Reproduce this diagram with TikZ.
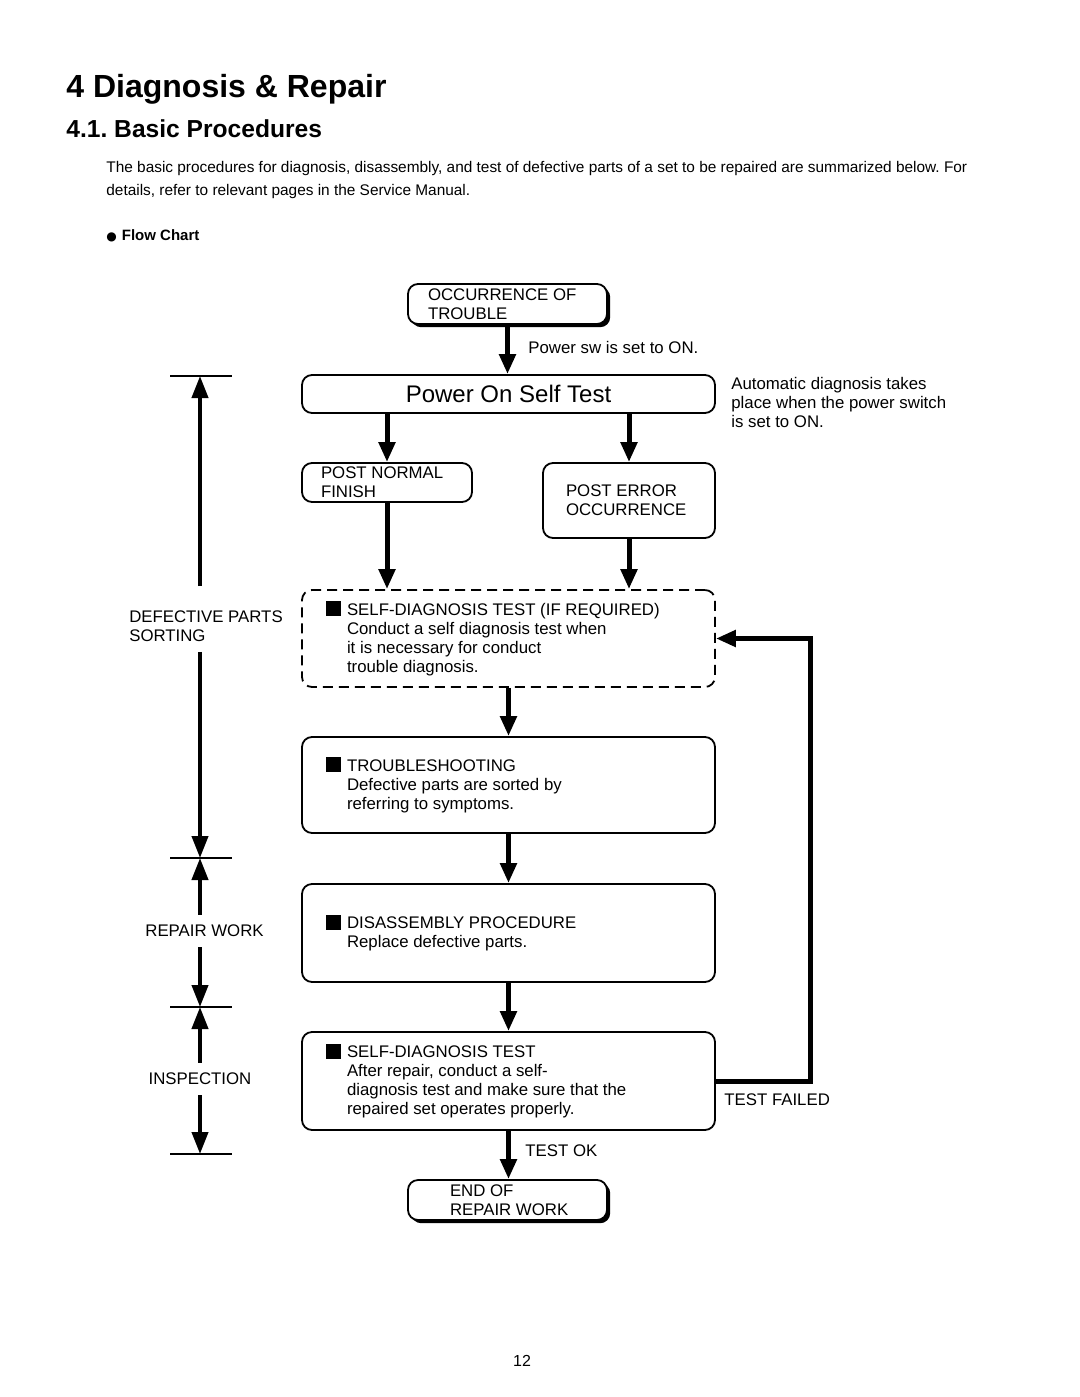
\documentclass[tikz,border=0pt]{standalone}
\usepackage{fontspec}
\setmainfont{Liberation Sans}
\newfontfamily\symfont{DejaVu Sans}
\usetikzlibrary{arrows.meta,shadows,positioning}
\frenchspacing

\newcommand{\sqmark}{\leavevmode\llap{\rule[-0.4pt]{7.5pt}{7.5pt}\hspace{3pt}}}
\newcommand{\boxtxt}[3]{\hspace*{#1}\parbox{#2}{\raggedright #3}}

\tikzset{
  flow/.style={line width=2.5pt, -{Triangle[length=10pt,width=8pt]}},
  dimarrow/.style={line width=2pt, -{Triangle[length=11pt,width=8pt]}},
  tickline/.style={line width=0.9pt},
  box/.style={draw, line width=0.9pt, rounded corners=5pt, fill=white, inner sep=0pt, font=\fontsize{8.4}{9.5}\selectfont},
  shadowbox/.style={box, drop shadow={shadow xshift=1.6pt, shadow yshift=-1.6pt, fill=black, opacity=1}},
  dashbox/.style={box, dash pattern=on 5pt off 3pt},
  txt/.style={inner sep=0pt, align=left, font=\fontsize{8.4}{9.5}\selectfont},
}

\begin{document}
\begin{tikzpicture}[x=0.5pt, y=-0.5pt]
\fill[white] (0,0) rectangle (1080,1397);
\useasboundingbox (0,0) rectangle (1080,1397);

% page heading
\node[anchor=base west, inner sep=0pt, font=\fontsize{16}{19}\selectfont\bfseries] (title) at (66,97) {4 Diagnosis \& Repair};
\node[anchor=base west, inner sep=0pt, font=\fontsize{12.3}{15}\selectfont\bfseries] (sect) at (66,137) {4.1. Basic Procedures};
\node[anchor=north west, inner sep=0pt, align=left, font=\fontsize{7.7}{11.5}\selectfont] (intro) at (106,161) {The basic procedures for diagnosis, disassembly, and test of defective parts of a set to be repaired are summarized below. For\\details, refer to relevant pages in the Service Manual.};
\node[anchor=base west, inner sep=0pt, font=\fontsize{7.5}{9}\selectfont\bfseries] (fchart) at (106,240) {{\symfont\fontsize{6}{8}\selectfont ●}\hspace{2.5pt}Flow Chart};

% flow chart boxes
\node[shadowbox, minimum width=99.5pt, minimum height=20pt] (occ) at (507.5,304) {\boxtxt{10pt}{89.5pt}{OCCURRENCE OF\\TROUBLE}};
\node[box, minimum width=206.5pt, minimum height=19pt, font=\fontsize{12}{14}\selectfont] (pwr) at (508.5,394) {Power On Self Test};
\node[box, minimum width=85pt, minimum height=19.5pt] (pnorm) at (387,482.5) {\boxtxt{9.5pt}{75.5pt}{POST NORMAL\\FINISH}};
\node[box, minimum width=86pt, minimum height=37.5pt] (perr) at (629,500.5) {\boxtxt{11.5pt}{74.5pt}{POST ERROR\\OCCURRENCE}};
\node[dashbox, minimum width=206.5pt, minimum height=48.5pt] (diag) at (508.5,638.5) {\boxtxt{22.5pt}{184pt}{\sqmark SELF-DIAGNOSIS TEST (IF REQUIRED)\\Conduct a self diagnosis test when\\it is necessary for conduct\\trouble diagnosis.}};
\node[box, minimum width=206.5pt, minimum height=48pt] (trbl) at (508.5,785) {\boxtxt{22.5pt}{184pt}{\sqmark TROUBLESHOOTING\\Defective parts are sorted by\\referring to symptoms.}};
\node[box, minimum width=206.5pt, minimum height=49pt] (disasm) at (508.5,933) {\boxtxt{22.5pt}{184pt}{\sqmark DISASSEMBLY PROCEDURE\\Replace defective parts.}};
\node[box, minimum width=206.5pt, minimum height=49pt] (stest) at (508.5,1081) {\boxtxt{22.5pt}{184pt}{\sqmark SELF-DIAGNOSIS TEST\\After repair, conduct a self-\\diagnosis test and make sure that the\\repaired set operates properly.}};
\node[shadowbox, minimum width=99.5pt, minimum height=20pt] (endb) at (507.5,1200) {\boxtxt{21pt}{78.5pt}{END OF\\REPAIR WORK}};

% side notes
\node[txt, anchor=west] (pwrsw) at (528,347) {Power sw is set to ON.};
\node[txt, anchor=north west] (autonote) at (731,377) {Automatic diagnosis takes\\place when the power switch\\is set to ON.};
\node[txt, anchor=west] (failed) at (724,1100) {TEST FAILED};
\node[txt, anchor=west] (testok) at (525,1151) {TEST OK};

% connectors
\draw[flow] (occ.south) -- (occ.south |- pwr.north);
\draw[flow] (pwr.south -| pnorm) -- (pnorm);
\draw[flow] (pwr.south -| perr) -- (perr);
\draw[flow] (pnorm) -- (pnorm |- diag.north);
\draw[flow] (perr) -- (perr |- diag.north);
\foreach \from/\to in {diag/trbl, trbl/disasm, disasm/stest}
    \draw[flow] (\from) -- (\to);
\draw[flow] (stest.south) -- (stest.south |- endb.north);
\draw[flow] (stest.east) -- ++(95,0) |- (diag.east);

% stages on the left
\coordinate (t1) at (200,376);
\coordinate (t2) at (200,858);
\coordinate (t3) at (200,1007);
\coordinate (t4) at (200,1154);
\foreach \t in {t1,t2,t3,t4}
    \draw[tickline] ([xshift=-15pt]\t) -- ([xshift=16pt]\t);

\node[txt, inner ysep=5pt] (defsort) at (206,626) {DEFECTIVE PARTS\\SORTING};
\node[txt, inner ysep=5pt] (repwork) at (204.5,931) {REPAIR WORK};
\node[txt, inner ysep=5pt] (insp) at (200,1079) {INSPECTION};

\draw[dimarrow] (defsort.north -| t1) ++(0,-14) -- (t1);
\draw[dimarrow] (defsort.south -| t2) -- (t2);
\draw[dimarrow] (repwork.north -| t2) -- (t2);
\draw[dimarrow] (repwork.south -| t3) -- (t3);
\draw[dimarrow] (insp.north -| t3) -- (t3);
\draw[dimarrow] (insp.south -| t4) -- (t4);

\node[anchor=base, inner sep=0pt, font=\fontsize{8}{10}\selectfont] (pagenum) at (522,1366) {12};
\end{tikzpicture}
\end{document}
